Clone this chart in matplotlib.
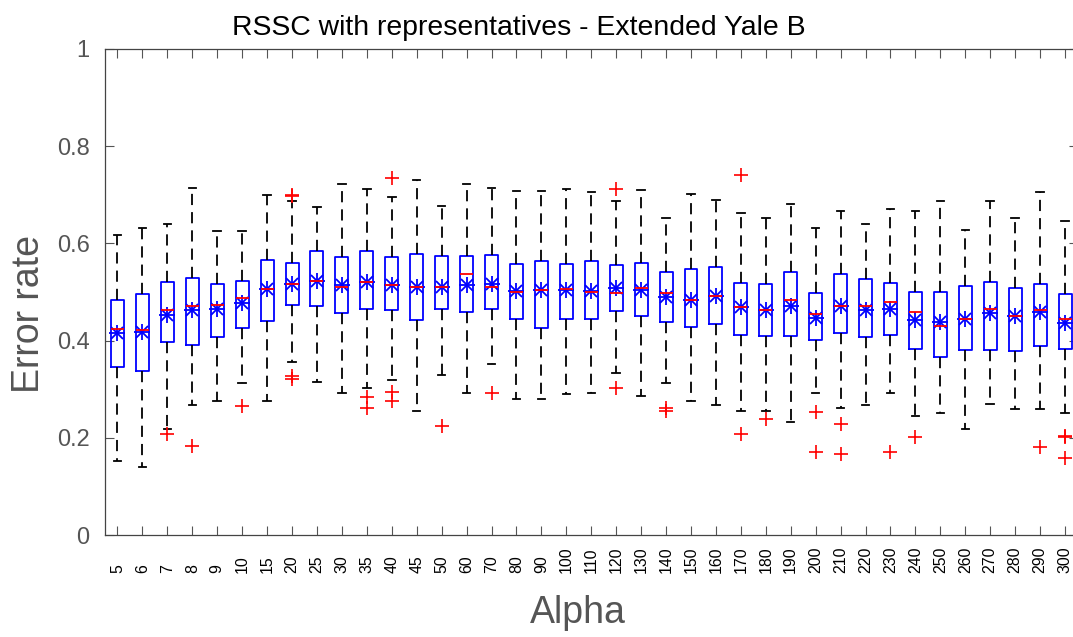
import matplotlib
matplotlib.use("Agg")
import matplotlib.pyplot as plt

plt.rcParams['font.family'] = ['Liberation Sans', 'DejaVu Sans']

alphas = [5, 6, 7, 8, 9, 10, 15, 20, 25, 30, 35, 40, 45, 50, 60, 70, 80, 90, 100,
          110, 120, 130, 140, 150, 160, 170, 180, 190, 200, 210, 220, 230, 240,
          250, 260, 270, 280, 290, 300]

whisker_hi = [0.617, 0.632, 0.639, 0.714, 0.626, 0.626, 0.699, 0.686, 0.674, 0.721,
              0.711, 0.695, 0.730, 0.677, 0.721, 0.714, 0.708, 0.708, 0.711, 0.705,
              0.687, 0.709, 0.652, 0.702, 0.689, 0.662, 0.652, 0.680, 0.632, 0.667,
              0.639, 0.671, 0.667, 0.686, 0.627, 0.686, 0.652, 0.705, 0.646]

q3 = [0.483, 0.495, 0.521, 0.529, 0.517, 0.522, 0.566, 0.559, 0.585, 0.572,
      0.584, 0.571, 0.578, 0.573, 0.573, 0.576, 0.558, 0.563, 0.558, 0.563,
      0.556, 0.559, 0.541, 0.547, 0.551, 0.519, 0.517, 0.541, 0.497, 0.538,
      0.526, 0.518, 0.500, 0.499, 0.512, 0.520, 0.508, 0.516, 0.495]

median = [0.423, 0.421, 0.462, 0.472, 0.473, 0.487, 0.507, 0.517, 0.522, 0.510,
          0.521, 0.515, 0.510, 0.510, 0.536, 0.510, 0.500, 0.504, 0.507, 0.500,
          0.498, 0.509, 0.497, 0.484, 0.492, 0.469, 0.462, 0.484, 0.454, 0.472,
          0.471, 0.479, 0.458, 0.431, 0.444, 0.465, 0.451, 0.462, 0.444]

mean = [0.415, 0.418, 0.453, 0.462, 0.465, 0.478, 0.507, 0.516, 0.523, 0.514,
        0.521, 0.514, 0.510, 0.510, 0.514, 0.517, 0.502, 0.505, 0.504, 0.502,
        0.508, 0.504, 0.489, 0.484, 0.492, 0.469, 0.464, 0.472, 0.447, 0.472,
        0.462, 0.465, 0.443, 0.438, 0.444, 0.457, 0.451, 0.459, 0.437]

q1 = [0.346, 0.337, 0.397, 0.391, 0.407, 0.427, 0.440, 0.474, 0.471, 0.457,
      0.465, 0.462, 0.442, 0.465, 0.459, 0.465, 0.445, 0.425, 0.445, 0.445,
      0.460, 0.451, 0.439, 0.428, 0.435, 0.412, 0.410, 0.410, 0.402, 0.416,
      0.407, 0.412, 0.382, 0.366, 0.380, 0.380, 0.378, 0.390, 0.382]

whisker_lo = [0.152, 0.140, 0.219, 0.267, 0.277, 0.312, 0.277, 0.356, 0.316, 0.293,
              0.302, 0.319, 0.255, 0.330, 0.293, 0.353, 0.281, 0.281, 0.290, 0.292,
              0.334, 0.286, 0.312, 0.277, 0.268, 0.256, 0.256, 0.233, 0.292, 0.262,
              0.268, 0.292, 0.246, 0.252, 0.219, 0.270, 0.259, 0.259, 0.252]

outliers = [[], [], [0.209], [0.184], [], [0.265], [], [0.700, 0.697, 0.327, 0.321],
            [], [], [0.284, 0.262], [0.734, 0.295, 0.277], [], [0.224], [], [0.293],
            [], [], [], [], [0.711, 0.303], [], [0.262, 0.256], [], [],
            [0.740, 0.209], [0.240], [], [0.253, 0.171], [0.228, 0.168], [],
            [0.171], [0.203], [], [], [], [], [0.182], [0.205, 0.201, 0.159]]

stats = []
for i, a in enumerate(alphas):
    stats.append(dict(label=str(a), whislo=whisker_lo[i], q1=q1[i], med=median[i],
                      q3=q3[i], whishi=whisker_hi[i], fliers=outliers[i],
                      mean=mean[i]))

fig = plt.figure(figsize=(10.73, 6.37), dpi=100)
ax = fig.add_axes([105 / 1073, 1 - 535.3 / 637, 972.5 / 1073, 486.6 / 637])

positions = list(range(1, len(alphas) + 1))
ax.bxp(stats, positions=positions, widths=0.52, capwidths=0.3, showmeans=False,
       boxprops=dict(color='#0000ff', linewidth=1.3),
       medianprops=dict(color='#ff0000', linewidth=1.3),
       whiskerprops=dict(color='black', linewidth=1.3, linestyle=(0, (6.2, 3.9))),
       capprops=dict(color='black', linewidth=1.3),
       flierprops=dict(marker='+', markeredgecolor='#ff0000', markersize=10,
                       markeredgewidth=1.2, linestyle='none'))

ax.plot(positions, mean, linestyle='none', marker='+', color='#0000ff',
        markersize=11, markeredgewidth=1.3)
ax.plot(positions, mean, linestyle='none', marker='x', color='#0000ff',
        markersize=8, markeredgewidth=1.3)

ax.set_xlim(0.5, len(alphas) + 0.5)
ax.set_ylim(0, 1)
ax.set_yticks([0, 0.2, 0.4, 0.6, 0.8, 1.0], ['0', '0.2', '0.4', '0.6', '0.8', '1'])
ax.set_xticks(positions, [str(a) for a in alphas], rotation=90, va='bottom')

ax.tick_params(axis='both', direction='in', top=True, right=True, length=6.5,
               width=0.8, color='#555555')
ax.tick_params(axis='y', labelsize=17, labelcolor='#555555', pad=11)
ax.tick_params(axis='x', labelsize=11.4, labelcolor='black', pad=27)
for s in ax.spines.values():
    s.set_color('#444444')
    s.set_linewidth(0.9)

ax.set_title('RSSC with representatives - Extended Yale B', fontsize=20.4,
             color='black', pad=10, x=0.426)
ax.set_ylabel('Error rate', fontsize=27, color='#555555')
ax.set_xlabel('Alpha', fontsize=27, color='#555555')
ax.yaxis.set_label_coords(-0.0596, 0.455)
ax.xaxis.set_label_coords(0.486, -0.122)

fig.savefig('out.png', dpi=100)
